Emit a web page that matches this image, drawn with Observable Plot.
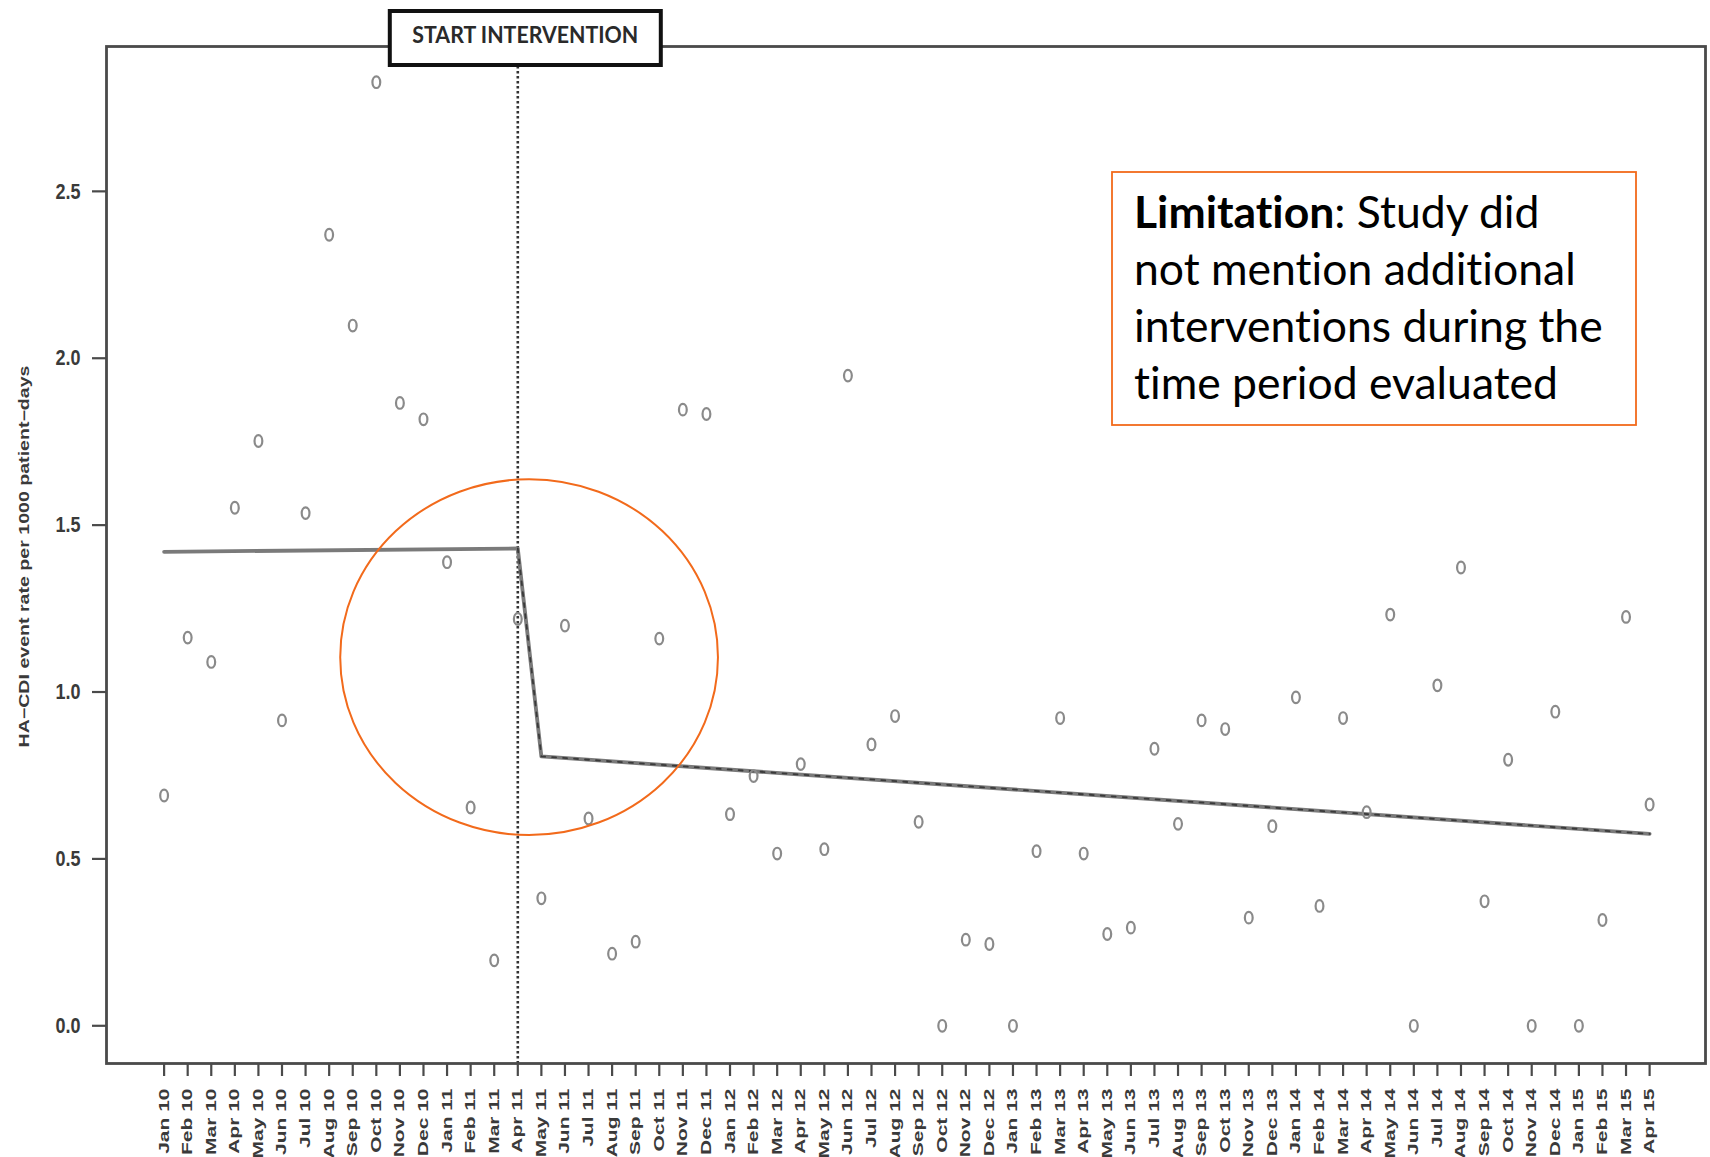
<!DOCTYPE html>
<html><head><meta charset="utf-8">
<script src="https://cdn.jsdelivr.net/npm/d3@7"></script>
<script src="https://cdn.jsdelivr.net/npm/@observablehq/plot@0.6"></script>
<style>html,body{margin:0;padding:0;background:#fff;} #chart{width:1710px;height:1157px;overflow:hidden;position:relative}</style>
</head><body><div id="chart"></div>
<script>
// ---- data ----
const monthLabels = ["Jan 10","Feb 10","Mar 10","Apr 10","May 10","Jun 10","Jul 10","Aug 10","Sep 10","Oct 10","Nov 10","Dec 10",
  "Jan 11","Feb 11","Mar 11","Apr 11","May 11","Jun 11","Jul 11","Aug 11","Sep 11","Oct 11","Nov 11","Dec 11",
  "Jan 12","Feb 12","Mar 12","Apr 12","May 12","Jun 12","Jul 12","Aug 12","Sep 12","Oct 12","Nov 12","Dec 12",
  "Jan 13","Feb 13","Mar 13","Apr 13","May 13","Jun 13","Jul 13","Aug 13","Sep 13","Oct 13","Nov 13","Dec 13",
  "Jan 14","Feb 14","Mar 14","Apr 14","May 14","Jun 14","Jul 14","Aug 14","Sep 14","Oct 14","Nov 14","Dec 14",
  "Jan 15","Feb 15","Mar 15","Apr 15"];
const eventRates = [0.69,1.163,1.09,1.552,1.752,0.915,1.536,2.37,2.098,2.827,1.866,1.817,
  1.389,0.654,0.196,1.219,0.382,1.199,0.621,0.216,0.252,1.16,1.846,1.833,
  0.634,0.748,0.516,0.784,0.529,1.948,0.843,0.928,0.611,0,0.258,0.245,
  0,0.523,0.922,0.516,0.275,0.294,0.83,0.605,0.915,0.889,0.324,0.598,
  0.984,0.359,0.922,0.64,1.232,0,1.02,1.373,0.373,0.797,0,0.941,
  0,0.317,1.225,0.663];
const fitMonthIndex = [0, 15, 16, 63];
const fitRate = [1.42, 1.43, 0.807, 0.575];
const yTicks = [0, 0.5, 1, 1.5, 2, 2.5];
const yTickLabels = ["0.0","0.5","1.0","1.5","2.0","2.5"];
const interventionIndex = 15;
const yTitle = "HA\u2212CDI event rate per 1000 patient\u2212days";
const interventionLabel = "START INTERVENTION";
const noteBold = "Limitation";
const noteLines = [": Study did", "not mention additional", "interventions during the", "time period evaluated"];

// ---- build tables ----
const points = eventRates.map((v, i) => ({i, v}));
const fit = fitMonthIndex.map((i, k) => ({i, v: fitRate[k]}));

const ellipseSymbol = {
  draw(ctx) {
    const rx = 3.9, ry = 5.8, k = 0.5523;
    ctx.moveTo(rx, 0);
    ctx.bezierCurveTo(rx, ry * k, rx * k, ry, 0, ry);
    ctx.bezierCurveTo(-rx * k, ry, -rx, ry * k, -rx, 0);
    ctx.bezierCurveTo(-rx, -ry * k, -rx * k, -ry, 0, -ry);
    ctx.bezierCurveTo(rx * k, -ry, rx, -ry * k, rx, 0);
    ctx.closePath();
  }
};

const plot = Plot.plot({
  width: 1710,
  height: 1157,
  marginLeft: 106,
  marginRight: 5,
  marginTop: 46,
  marginBottom: 94,
  style: {fontFamily: "'Liberation Sans', Arial, sans-serif", background: "#fff", overflow: "visible"},
  x: {type: "linear", domain: [-2.443, 65.37]},
  y: {domain: [-0.113, 2.934]},
  marks: [
    Plot.ruleX([interventionIndex], {stroke: "#333", strokeWidth: 2.6, strokeDasharray: "2.5,2.5"}),
    Plot.line(fit, {x: "i", y: "v", stroke: "#7a7a7a", strokeWidth: 3.8}),
    Plot.line(fit.slice(1), {x: "i", y: "v", stroke: "#3a3a3a", strokeWidth: 1.8, strokeDasharray: "4,7"}),
    Plot.dot(points, {x: "i", y: "v", symbol: ellipseSymbol, stroke: "#8a8a8a", strokeWidth: 2.2, fill: "none"}),
    Plot.frame({stroke: "#4a4a4a", strokeWidth: 2.8}),
    Plot.axisY({ticks: yTicks, tickFormat: (d) => yTickLabels[yTicks.indexOf(d)], tickSize: 14, tickPadding: 12,
      fontSize: 18, fontWeight: "bold", fill: "#3a3a3a", stroke: "#4a4a4a", strokeWidth: 2.2, label: null}),
    Plot.axisX({ticks: monthLabels.map((_, i) => i), tickFormat: (i) => monthLabels[i], tickRotate: -90,
      tickSize: 13, tickPadding: 12, fontSize: 14, fontWeight: "bold", fill: "#3a3a3a", stroke: "#4a4a4a", strokeWidth: 2.2, label: null})
  ]
});
document.getElementById("chart").appendChild(plot);

const svg = d3.select(plot);
const xs = plot.scale("x"), ys = plot.scale("y");

// stretch tick labels (the original was stretched vertically)
svg.selectAll('g[aria-label="x-axis tick label"] text').each(function() {
  const t = this.getAttribute("transform") || "";
  this.setAttribute("transform", t + " scale(1.5,1)");
});
svg.selectAll('g[aria-label="y-axis tick label"] text').each(function() {
  const t = this.getAttribute("transform") || "";
  this.setAttribute("transform", t + " scale(1,1.25)");
});

// y axis title
const yMid = (ys.apply(ys.domain[0]) + ys.apply(ys.domain[1])) / 2;
svg.append("text")
  .attr("transform", `translate(24,${yMid + 2}) rotate(-90) scale(1.40,1)`)
  .attr("text-anchor", "middle").attr("dy", "0.35em")
  .attr("font-size", 14).attr("font-weight", "bold").attr("fill", "#3a3a3a")
  .text(yTitle);

// START INTERVENTION box
const bx = xs.apply(interventionIndex) + 8;
svg.append("rect").attr("x", bx - 135.5).attr("y", 11).attr("width", 271).attr("height", 54)
  .attr("fill", "#fff").attr("stroke", "#111").attr("stroke-width", 4);
svg.append("text").attr("x", bx).attr("y", 43).attr("text-anchor", "middle")
  .attr("font-family", "Lato, 'Open Sans', sans-serif").attr("font-weight", "bold").attr("font-size", 23)
  .attr("fill", "#2a2a2a").attr("textLength", 226).attr("lengthAdjust", "spacingAndGlyphs")
  .text(interventionLabel);

// orange ellipse highlight
const ecx = xs.apply(15.5), ecy = ys.apply(1.103);
svg.append("ellipse").attr("cx", ecx).attr("cy", ecy)
  .attr("rx", xs.apply(15.5 + 8.01) - ecx).attr("ry", ecy - ys.apply(1.103 + 0.533))
  .attr("fill", "none").attr("stroke", "#f26a1b").attr("stroke-width", 2);

// limitation note box
svg.append("rect").attr("x", 1112).attr("y", 172).attr("width", 524).attr("height", 253)
  .attr("fill", "#fff").attr("stroke", "#f26a1b").attr("stroke-width", 1.8);
const note = svg.append("g").attr("font-family", "Lato, 'Open Sans', sans-serif").attr("font-size", 44.5)
  .attr("fill", "#000").attr("text-anchor", "start").style("font-variant-ligatures", "none");
noteLines.forEach((line, k) => {
  const t = note.append("text").attr("x", 1134).attr("y", 228 + k * 57).attr("text-anchor", "start");
  if (k === 0) t.append("tspan").attr("font-weight", "bold").text(noteBold);
  t.append("tspan").text(line);
});
</script>
</body></html>
